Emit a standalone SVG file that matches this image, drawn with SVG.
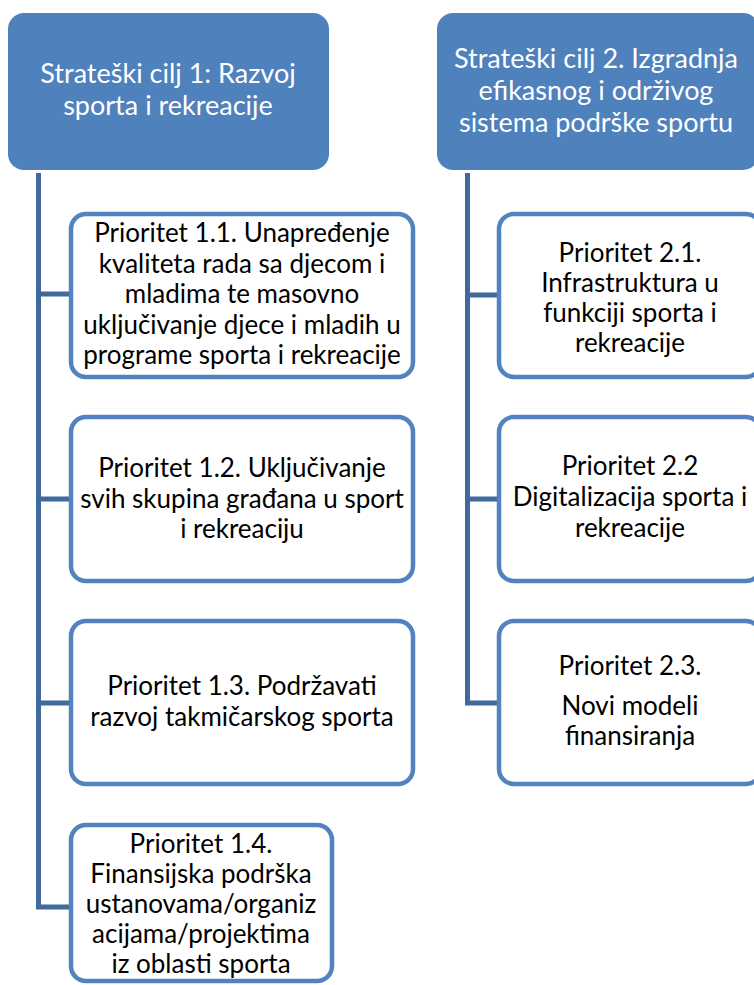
<svg xmlns="http://www.w3.org/2000/svg" width="754" height="985" viewBox="0 0 754 985">
<style>
.hdr{fill:#4F81BD;stroke:none}
.box{fill:#FFFFFF;stroke:#5283C0;stroke-width:4.5}
.con{fill:none;stroke:#42699B;stroke-width:5;stroke-linejoin:miter}
text{font-family:Lato,"Open Sans","Liberation Sans",sans-serif;text-anchor:middle}
.ht{fill:#FFFFFF;font-size:27px}
.bt{fill:#000000;font-size:26px}
</style>
<rect width="754" height="985" fill="#FFFFFF"/>
<g id="connectors">
<path class="con" d="M38.5 173 V907 H71"/>
<path class="con" d="M38.5 294 H71 M38.5 499 H71 M38.5 703 H71"/>
<path class="con" d="M467.5 173 V703 H499"/>
<path class="con" d="M467.5 295 H499 M467.5 499 H499"/>
</g>
<g id="goal1">
<rect class="hdr" x="8" y="13" width="321" height="157" rx="16"/>
<text class="ht" x="168"><tspan x="168" y="83">Strateški cilj 1: Razvoj</tspan><tspan x="168" y="115">sporta i rekreacije</tspan></text>
</g>
<g id="goal2">
<rect class="hdr" x="437" y="13" width="322" height="157" rx="16"/>
<text class="ht" x="596"><tspan x="596" y="68">Strateški cilj 2. Izgradnja</tspan><tspan x="596" y="100">efikasnog i održivog</tspan><tspan x="596" y="132">sistema podrške sportu</tspan></text>
</g>
<g id="p11">
<rect class="box" x="71" y="214" width="342" height="163" rx="15"/>
<text class="bt"><tspan x="242" y="242">Prioritet 1.1. Unapređenje</tspan><tspan x="242" y="272.5">kvaliteta rada sa djecom i</tspan><tspan x="242" y="303">mladima te masovno</tspan><tspan x="242" y="333.5">uključivanje djece i mladih u</tspan><tspan x="242" y="364">programe sporta i rekreacije</tspan></text>
</g>
<g id="p12">
<rect class="box" x="71" y="417" width="342" height="164" rx="15"/>
<text class="bt"><tspan x="242" y="477">Prioritet 1.2. Uključivanje</tspan><tspan x="242" y="507.5">svih skupina građana u sport</tspan><tspan x="242" y="538">i rekreaciju</tspan></text>
</g>
<g id="p13">
<rect class="box" x="71" y="621" width="342" height="163" rx="15"/>
<text class="bt"><tspan x="242" y="695">Prioritet 1.3. Podržavati</tspan><tspan x="242" y="726">razvoj takmičarskog sporta</tspan></text>
</g>
<g id="p14">
<rect class="box" x="71" y="825" width="261" height="156" rx="15"/>
<text class="bt"><tspan x="201" y="853">Prioritet 1.4.</tspan><tspan x="201" y="883">Finansijska podrška</tspan><tspan x="201" y="913">ustanovama/organiz</tspan><tspan x="201" y="943">acijama/projektima</tspan><tspan x="201" y="973">iz oblasti sporta</tspan></text>
</g>
<g id="p21">
<rect class="box" x="499" y="214" width="262" height="163" rx="15"/>
<text class="bt"><tspan x="630" y="262">Prioritet 2.1.</tspan><tspan x="630" y="292">Infrastruktura u</tspan><tspan x="630" y="322">funkciji sporta i</tspan><tspan x="630" y="352">rekreacije</tspan></text>
</g>
<g id="p22">
<rect class="box" x="499" y="417" width="262" height="164" rx="15"/>
<text class="bt"><tspan x="630" y="475">Prioritet 2.2</tspan><tspan x="630" y="506">Digitalizacija sporta i</tspan><tspan x="630" y="537">rekreacije</tspan></text>
</g>
<g id="p23">
<rect class="box" x="499" y="621" width="262" height="163" rx="15"/>
<text class="bt"><tspan x="630" y="675">Prioritet 2.3.</tspan><tspan x="630" y="715">Novi modeli</tspan><tspan x="630" y="745">finansiranja</tspan></text>
</g>
</svg>
